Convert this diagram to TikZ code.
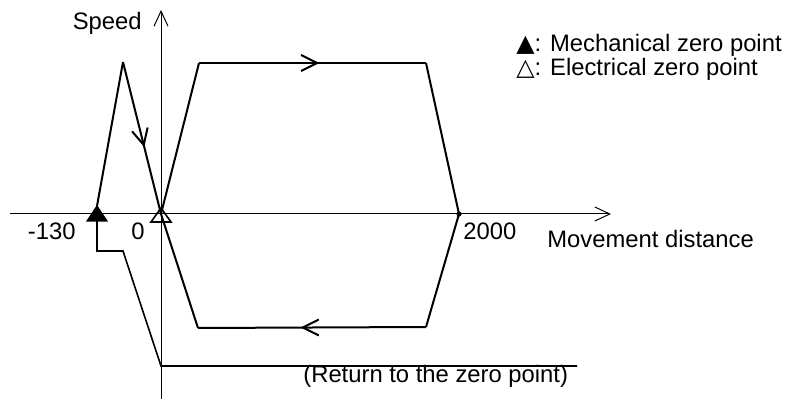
\documentclass[tikz,border=0pt]{standalone}
\usepackage{fontspec}
\setmainfont{Liberation Sans}
\newfontfamily\symfont{DejaVu Sans}
\usetikzlibrary{arrows.meta,decorations.markings}

\begin{document}
\begin{tikzpicture}[
  x=0.5pt,y=-0.5pt,
  every node/.style={font=\fontsize{11.9}{14}\selectfont,inner sep=0pt},
  axis/.style={line width=0.5pt,-{Straight Barb[length=7.5pt,width=7pt,line width=0.5pt]}},
  curve/.style={line width=1pt,line join=miter},
  flow/.style={postaction={decorate},decoration={markings,
    mark=at position #1 with {\arrow{Straight Barb[length=8pt,width=8pt,line width=1pt]}}}}
]
\useasboundingbox (0,0) rectangle (790,400);
% axes
\coordinate (o) at (161,214);
\coordinate (xstart) at (10,214);
\coordinate (xend) at (611,214);
\coordinate (ybot) at (161,399);
\coordinate (ytop) at (161,10);
\draw[axis] (xstart) -- (xend);
\draw[axis] (ybot) -- (ytop);
% zero points
\coordinate (mech) at (97,214);
\filldraw[line width=0.6pt] ([shift={(-10,7)}]mech) -- ([shift={(10,7)}]mech) -- ([shift={(0,-8)}]mech) -- cycle;
\draw[line width=0.8pt] ([shift={(-10,8)}]o) -- ([shift={(10,8)}]o) -- ([shift={(0,-6)}]o) -- cycle;
% speed profile
\coordinate (peak) at (123,62);
\coordinate (upl) at (199,63);
\coordinate (upr) at (426,63);
\coordinate (end) at (459,214);
\coordinate (lor) at (426,327);
\coordinate (lol) at (198,328);
\draw[curve] ([shift={(0,-8)}]mech) -- (peak);
\draw[curve,flow=0.56] (peak) -- (o);
\draw[curve] (o) -- (upl);
\draw[curve,flow=0.53] (upl) -- (upr);
\draw[curve] (upr) -- (end) -- (lor);
\draw[curve,flow=0.55] (lor) -- (lol);
\draw[curve] (lol) -- (o);
\fill (end) circle (2.6);
% return
\coordinate (r1) at (97,251);
\coordinate (r2) at (123,251);
\coordinate (r3) at (161,366);
\coordinate (r4) at (577,366);
\draw[line width=0.8pt] ([shift={(0,7)}]mech) -- (r1) -- (r2) -- (r3) -- (r4);
% labels
\node[anchor=base east] (speed) at (142,30) {Speed};
\node[anchor=base east] (m130) at (76,240) {-130};
\node[anchor=base east] (zero) at (145,240) {0};
\node[anchor=base west] (d2000) at (463,240) {2000};
\node[anchor=base west] (dist) at (547,248) {Movement distance};
\node[anchor=base west,align=left,font=\fontsize{11.9}{10}\selectfont] (legend) at (516,76)
  {{\symfont ▲}: Mechanical zero point\\{\symfont △}: Electrical zero point};
\node[anchor=base west] (ret) at (303,382) {(Return to the zero point)};
\end{tikzpicture}
\end{document}
